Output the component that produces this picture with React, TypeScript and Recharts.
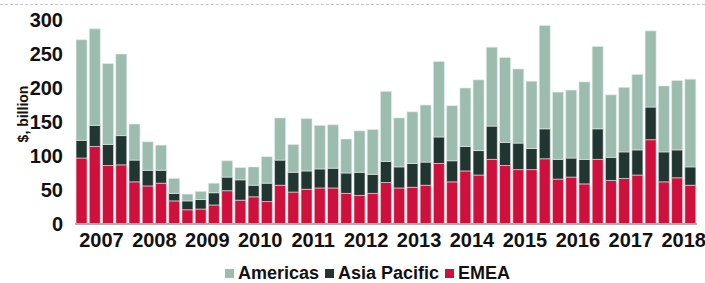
import React from 'react';
import { BarChart, Bar, XAxis, YAxis, Legend } from 'recharts';

const quarters = [
  '2007Q1', '2007Q2', '2007Q3', '2007Q4',
  '2008Q1', '2008Q2', '2008Q3', '2008Q4',
  '2009Q1', '2009Q2', '2009Q3', '2009Q4',
  '2010Q1', '2010Q2', '2010Q3', '2010Q4',
  '2011Q1', '2011Q2', '2011Q3', '2011Q4',
  '2012Q1', '2012Q2', '2012Q3', '2012Q4',
  '2013Q1', '2013Q2', '2013Q3', '2013Q4',
  '2014Q1', '2014Q2', '2014Q3', '2014Q4',
  '2015Q1', '2015Q2', '2015Q3', '2015Q4',
  '2016Q1', '2016Q2', '2016Q3', '2016Q4',
  '2017Q1', '2017Q2', '2017Q3', '2017Q4',
  '2018Q1', '2018Q2', '2018Q3',
];

const emea = [
  97, 114, 86, 87, 62, 56, 60, 34, 21, 22, 28, 49,
  35, 40, 33, 57, 47, 51, 53, 53, 45, 42, 45, 61,
  53, 54, 57, 89, 62, 78, 72, 95, 86, 80, 80, 96,
  66, 69, 59, 95, 64, 67, 72, 124, 62, 68, 57,
];

const asiaPacific = [
  26, 31, 31, 43, 32, 23, 19, 11, 13, 14, 18, 20,
  30, 17, 27, 37, 29, 27, 28, 29, 30, 34, 28, 31,
  31, 35, 34, 39, 31, 36, 36, 49, 34, 39, 31, 44,
  29, 28, 36, 45, 34, 39, 37, 48, 44, 41, 27,
];

const americas = [
  148, 142, 119, 120, 53, 42, 37, 22, 10, 12, 14, 24,
  18, 27, 39, 62, 41, 77, 64, 64, 50, 61, 66, 103,
  72, 76, 84, 111, 81, 86, 104, 116, 125, 109, 99, 152,
  99, 100, 114, 121, 92, 95, 111, 112, 97, 102, 129,
];

const yTicks = [0, 50, 100, 150, 200, 250, 300];
const yearTicks = quarters.filter((q) => q.endsWith('Q2'));

const data = quarters.map((q, i) => ({
  quarter: q,
  emea: emea[i],
  asiaPacific: asiaPacific[i],
  americas: americas[i],
}));

const FONT = '"Liberation Sans", Arial, sans-serif';

const legendItems = [
  { label: 'Americas', color: '#9dbcb0' },
  { label: 'Asia Pacific', color: '#213630' },
  { label: 'EMEA', color: '#d0103c' },
];

function YearTick(props: any) {
  const { x, y, payload } = props;
  // label sits between Q2 and Q3 bars, i.e. centred on the year
  return (
    <text x={x + 6.6} y={y + 15} textAnchor="middle" fontFamily={FONT} fontWeight="bold" fontSize={20} fill="#111">
      {String(payload.value).slice(0, 4)}
    </text>
  );
}

function CustomLegend() {
  return (
    <div style={{ display: 'flex', justifyContent: 'center', fontFamily: FONT, fontWeight: 'bold', fontSize: 18, lineHeight: '20px', color: '#111', paddingLeft: 44, paddingTop: 8 }}>
      {legendItems.map((it) => (
        <div key={it.label} style={{ display: 'flex', alignItems: 'center', marginRight: 6 }}>
          <span style={{ width: 9, height: 9, background: it.color, display: 'inline-block', marginRight: 4 }} />
          <span>{it.label}</span>
        </div>
      ))}
    </div>
  );
}

export default function App() {
  return (
    <div style={{ position: 'absolute', left: 0, top: 0, width: 705, height: 283, background: '#fff', overflow: 'hidden' }}>
      <div style={{ position: 'absolute', left: 0, top: 4, width: 705, borderTop: '1px dashed #c8c8c8' }} />
      <BarChart
        width={705}
        height={283}
        data={data}
        margin={{ top: 20, right: 8, left: 0, bottom: 0 }}
        barCategoryGap="8%"
      >
        <XAxis
          dataKey="quarter"
          ticks={yearTicks}
          interval={0}
          tick={<YearTick />}
          tickLine={false}
          axisLine={{ stroke: '#aab0b0', strokeWidth: 2 }}
          height={31}
        />
        <YAxis
          domain={[0, 300]}
          ticks={yTicks}
          width={75}
          axisLine={false}
          tickLine={false}
          tick={{ fill: '#111', fontSize: 20, fontWeight: 'bold', fontFamily: FONT }}
          tickMargin={6}
          label={{
            value: '$, billion',
            content: () => (
              <text
                x={23}
                y={114}
                transform="rotate(-90 23 114)"
                textAnchor="middle"
                dominantBaseline="central"
                fontFamily={FONT}
                fontWeight="bold"
                fontSize={14}
                fill="#111"
              >
                $, billion
              </text>
            ),
          }}
        />
        <Legend verticalAlign="bottom" height={28} content={<CustomLegend />} />
        <Bar dataKey="emea" stackId="a" fill="#d0103c" stroke="#f4dfe4" strokeWidth={0.6} isAnimationActive={false} />
        <Bar dataKey="asiaPacific" stackId="a" fill="#213630" stroke="#dfe8e4" strokeWidth={0.6} isAnimationActive={false} />
        <Bar dataKey="americas" stackId="a" fill="#9dbcb0" stroke="#e3ede9" strokeWidth={0.6} isAnimationActive={false} />
      </BarChart>
    </div>
  );
}
